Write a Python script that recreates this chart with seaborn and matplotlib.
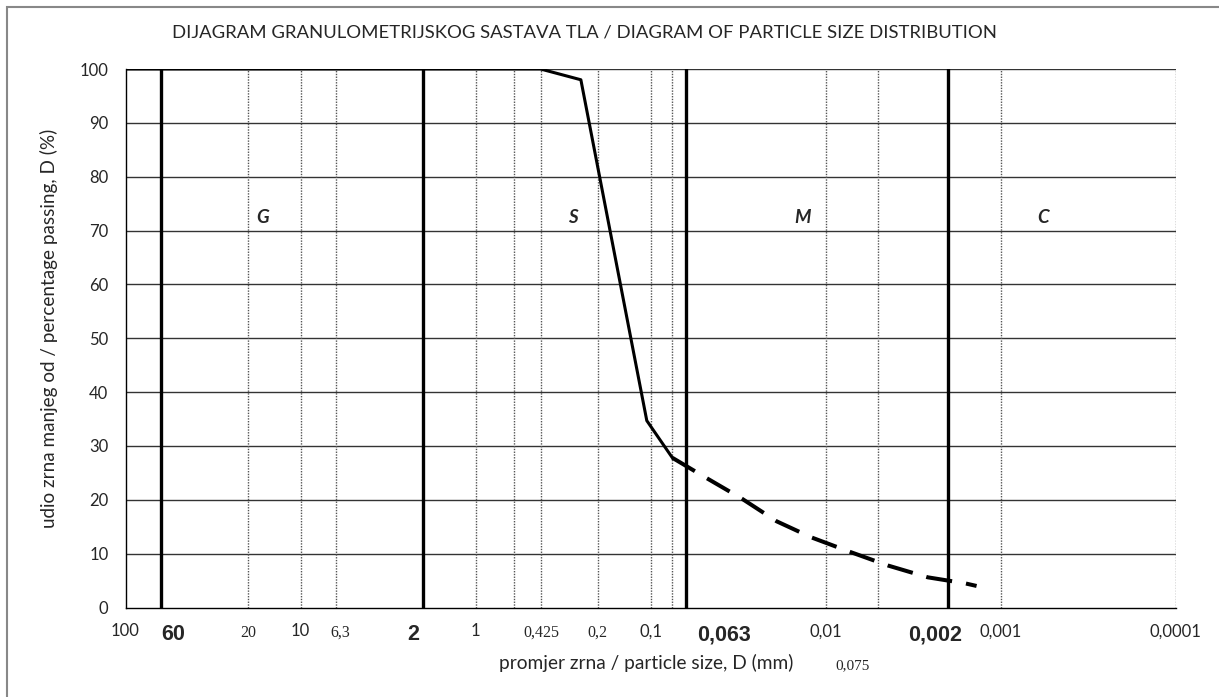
import numpy as np
import pandas as pd
import matplotlib
matplotlib.use("Agg")
import matplotlib.pyplot as plt
from matplotlib.ticker import FixedLocator, LogLocator, NullFormatter, MultipleLocator
from matplotlib.patches import Rectangle
import seaborn as sns

# -------------------------------------------------
# Data
# -------------------------------------------------

# sieve analysis (solid line)
sieve_size = [100, 0.425, 0.25, 0.105, 0.075]
sieve_pass = [100, 100, 98, 34.7, 27.8]

# hydrometer analysis (dashed line)
hydro_size = [0.075, 0.05, 0.03, 0.019, 0.012, 0.0072, 0.0044, 0.0026, 0.0016, 0.00137]
hydro_pass = [27.8, 24.4, 20.2, 16.0, 13.0, 10.3, 7.8, 5.6, 4.5, 4.0]

# fraction boundaries (thick lines) and their labels
boundary_size = [63, 2, 0.063, 0.002]
boundary_labels = ["60", "2", "0,063", "0,002"]
boundary_label_shift = [13, -10, 38, -13]

# dotted guide lines
guide_size = [20, 10, 6.3, 1, 0.6, 0.425, 0.2, 0.1, 0.075, 0.01, 0.005, 0.001, 0.0001]

# tick labels
decade_ticks = [100, 10, 1, 0.1, 0.01, 0.001, 0.0001]
decade_labels = ["100", "10", "1", "0,1", "0,01", "0,001", "0,0001"]
serif_ticks = [20, 6.3, 0.425, 0.2]
serif_labels = ["20", "6,3", "0,425", "0,2"]
serif_shift = [0, 5, 1, 0]

# soil fraction names
zone_names = ["G", "S", "M", "C"]
zone_x = [16.4, 0.277, 0.0135, 0.00057]
zone_y = 72.5

sieve = pd.DataFrame({"size": sieve_size, "passing": sieve_pass})
hydro = pd.DataFrame({"size": hydro_size, "passing": hydro_pass})

# -------------------------------------------------
# Figure
# -------------------------------------------------
sns.set_style("white")
plt.rcParams["font.family"] = ["Lato", "DejaVu Sans"]

W, H = 1219, 697
fig = plt.figure(figsize=(W / 100, H / 100), dpi=100)
ax = fig.add_axes([125.5 / W, 1 - 607.5 / H, 1050 / W, 538.5 / H])

# grid
for y in range(10, 101, 10):
    ax.axhline(y, color="#333333", lw=1.0, zorder=1)
for x in guide_size:
    ax.axvline(x, color="#555555", lw=1.0, ls=(0, (1, 1)), zorder=1)
for x in boundary_size:
    ax.axvline(x, color="black", lw=2.4, zorder=3)

# curves
sns.lineplot(data=sieve, x="size", y="passing", ax=ax, color="black", lw=2.2,
             sort=False, estimator=None, zorder=4)
sns.lineplot(data=hydro, x="size", y="passing", ax=ax, color="black", lw=2.9,
             sort=False, estimator=None, linestyle=(0, (6.5, 3.5)), zorder=4)

ax.set_xscale("log")
ax.set_xlim(100, 0.0001)
ax.set_ylim(0, 100)
ax.set_xlabel("")
ax.set_ylabel("")

for side in ["top", "right"]:
    ax.spines[side].set_visible(False)
for side in ["left", "bottom"]:
    ax.spines[side].set_color("black")
    ax.spines[side].set_linewidth(1.0)

# ticks
ax.xaxis.set_major_locator(FixedLocator(decade_ticks))
ax.set_xticklabels(decade_labels)
ax.xaxis.set_minor_locator(LogLocator(base=10, subs=np.arange(2, 10), numticks=20))
ax.xaxis.set_minor_formatter(NullFormatter())
ax.yaxis.set_major_locator(MultipleLocator(10))
ax.yaxis.set_minor_locator(MultipleLocator(2))
ax.tick_params(axis="x", which="major", direction="inout", length=7.6, width=1,
               labelsize=12, pad=7.5)
ax.tick_params(axis="x", which="minor", direction="in", length=3, width=0.8)
ax.tick_params(axis="y", which="major", direction="out", length=4.3, width=1,
               labelsize=12, pad=8)
ax.tick_params(axis="y", which="minor", direction="in", length=3.2, width=0.8)

xaxis_tr = ax.get_xaxis_transform()
for val, lab, dx in zip(serif_ticks, serif_labels, serif_shift):
    ax.annotate(lab, xy=(val, 0), xycoords=xaxis_tr, xytext=(dx, -29.5),
                textcoords="offset pixels", ha="center", va="baseline",
                family="Liberation Serif", fontsize=11.5)
for val, lab, dx in zip(boundary_size, boundary_labels, boundary_label_shift):
    ax.annotate(lab, xy=(val, 0), xycoords=xaxis_tr, xytext=(dx, -32.5),
                textcoords="offset pixels", ha="center", va="baseline",
                family="Liberation Sans", fontweight="bold", fontsize=15.5)

for name, x in zip(zone_names, zone_x):
    ax.text(x, zone_y, name, ha="center", va="center", fontsize=13.5,
            fontweight="bold", style="italic")

# titles and axis labels
fig.text(585 / W, 1 - 33 / H,
         "DIJAGRAM GRANULOMETRIJSKOG SASTAVA TLA / DIAGRAM OF PARTICLE SIZE DISTRIBUTION",
         ha="center", va="center", fontsize=13.3)
fig.text(646.5 / W, 1 - 663 / H, "promjer zrna / particle size, D (mm)",
         ha="center", va="center", fontsize=13.8)
fig.text(49 / W, 1 - 328 / H, "udio zrna manjeg od / percentage passing, D (%)",
         ha="center", va="center", rotation=90, fontsize=13.6)
fig.text(853 / W, 1 - 666 / H, "0,075", ha="center", va="center",
         family="Liberation Serif", fontsize=11)

# outer frame
fig.patches.append(Rectangle((7 / W, -0.1), 1.5, 1.1 - 7 / H, transform=fig.transFigure,
                             fill=False, edgecolor="#888888", lw=1.5))

plt.savefig("out.png", dpi=100)
